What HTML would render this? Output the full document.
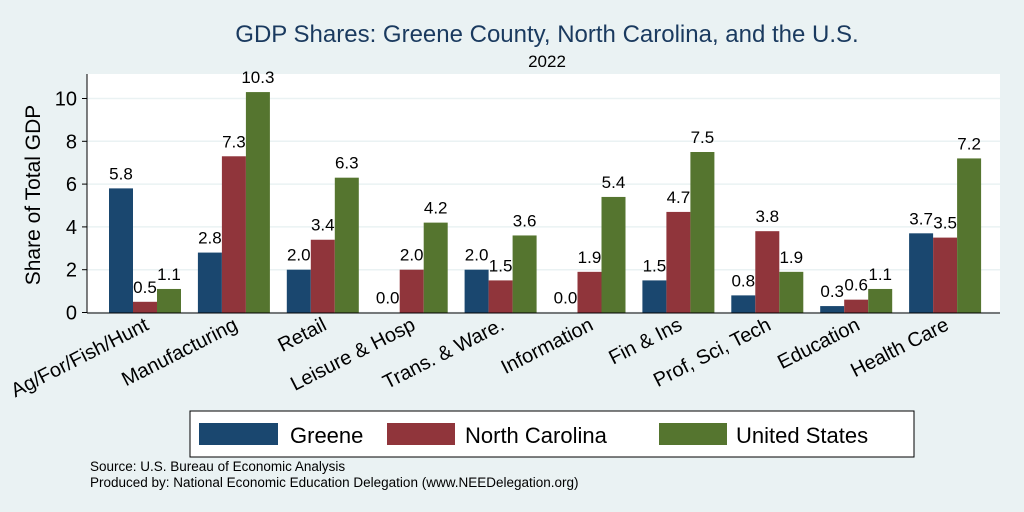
<!DOCTYPE html>
<html><head><meta charset="utf-8"><style>
body{margin:0;background:#eaf2f3;}
svg{display:block;font-family:"Liberation Sans",Arial,sans-serif;}
</style></head><body>
<svg width="1024" height="512">
<rect x="0" y="0" width="1024" height="512" fill="#eaf2f3"/>
<text x="547" y="42" text-anchor="middle" font-size="24" fill="#1a3a5f">GDP Shares: Greene County, North Carolina, and the U.S.</text>
<text x="547" y="67" text-anchor="middle" font-size="17" fill="#000">2022</text>
<rect x="87" y="74" width="913" height="239" fill="#fff"/>
<g id="grid"></g>
<g id="bars"></g>
<g id="labels"></g>
<line x1="87" y1="74" x2="87" y2="313" stroke="#000" stroke-width="1"/>
<line x1="87" y1="313" x2="1000" y2="313" stroke="#000" stroke-width="1"/>
<text transform="translate(40,195) rotate(-90)" text-anchor="middle" font-size="21">Share of Total GDP</text>
<g>
<rect x="190" y="411" width="724" height="46" fill="#fff" stroke="#000" stroke-width="1"/>
<rect x="199" y="423" width="79" height="22" fill="#1a476f"/>
<text x="290" y="443" font-size="22">Greene</text>
<rect x="387" y="423" width="68" height="22" fill="#90353b"/>
<text x="465" y="443" font-size="22">North Carolina</text>
<rect x="659" y="423" width="68" height="22" fill="#55752f"/>
<text x="736" y="443" font-size="22">United States</text>
</g>
<text x="90" y="471" font-size="13.5">Source: U.S. Bureau of Economic Analysis</text>
<text x="90" y="487" font-size="13.5">Produced by: National Economic Education Delegation (www.NEEDelegation.org)</text>
</svg>
<script>
const categories=["Ag/For/Fish/Hunt","Manufacturing","Retail","Leisure & Hosp","Trans. & Ware.","Information","Fin & Ins","Prof, Sci, Tech","Education","Health Care"];
const greene=[5.8,2.8,2.0,0.0,2.0,0.0,1.5,0.8,0.3,3.7];
const northCarolina=[0.5,7.3,3.4,2.0,1.5,1.9,4.7,3.8,0.6,3.5];
const unitedStates=[1.1,10.3,6.3,4.2,3.6,5.4,7.5,1.9,1.1,7.2];
const yTicks=[0,2,4,6,8,10];
const NS="http://www.w3.org/2000/svg";
const y=v=>312.5-v*21.4;
const xc=i=>145+i*88.9;
const bw=24;
function mk(t,a,p){const e=document.createElementNS(NS,t);for(const k in a)e.setAttribute(k,a[k]);p.appendChild(e);return e;}
const grid=document.getElementById('grid'),bars=document.getElementById('bars'),labels=document.getElementById('labels');
yTicks.forEach(t=>{
 const g=mk('line',{x1:87,x2:1000,y1:y(t),y2:y(t),stroke:'#eaf2f3','stroke-width':1.5},grid);
 
 
 const tk=mk('line',{x1:82,x2:87,y1:y(t),y2:y(t),stroke:'#000'},grid);
 
 
 const tl=mk('text',{x:77,y:y(t)+7,'text-anchor':'end','font-size':20},grid);
 tl.textContent=t;
 
 
});
const series=[[greene,'#1a476f','greene'],[northCarolina,'#90353b','north-carolina'],[unitedStates,'#55752f','united-states']];
categories.forEach((c,i)=>{
 series.forEach(([vals,col,nm],s)=>{
  const v=vals[i];const x0=xc(i)-bw*1.5+s*bw;
  const r=mk('rect',{x:x0,y:y(v),width:bw,height:312.5-y(v),fill:col},bars);
  
  
  const l=mk('text',{x:x0+bw/2,y:y(v)-9,'text-anchor':'middle','font-size':17},labels);
  l.textContent=v.toFixed(1);
  
  
 });
 const cl=mk('text',{transform:`translate(${xc(i)+5},${329}) rotate(-27)`,'text-anchor':'end','font-size':20},labels);
 cl.textContent=c;
 
 
});
</script>
</body></html>
